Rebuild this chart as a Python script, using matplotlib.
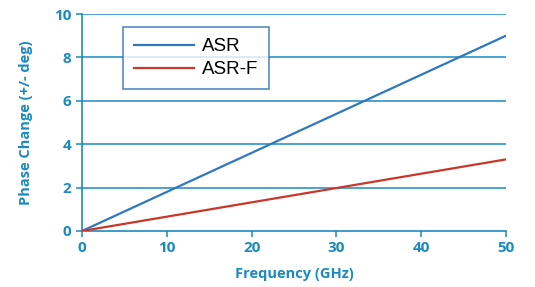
import matplotlib
matplotlib.use("Agg")
import matplotlib.pyplot as plt

freq = [0, 50]
asr = [0, 9.0]
asr_f = [0, 3.3]
xticks = [0, 10, 20, 30, 40, 50]
yticks = [0, 2, 4, 6, 8, 10]

axc = "#1a8ac2"
fig = plt.figure(figsize=(5.35, 2.87), dpi=100)
ax = fig.add_axes([82/535, 1-231/287, 424/535, 217/287])
ax.set_xlim(0, 50)
ax.set_ylim(0, 10)
for y in yticks[1:]:
    ax.axhline(y, color=axc, lw=1.1, zorder=1)
ax.plot(freq, asr, color="#2f78c0", lw=1.6, label="ASR", zorder=3)
ax.plot(freq, asr_f, color="#c8382a", lw=1.6, label="ASR-F", zorder=3)
for s in ["top", "right"]:
    ax.spines[s].set_visible(False)
for s in ["left", "bottom"]:
    ax.spines[s].set_color(axc)
    ax.spines[s].set_linewidth(1.2)
ax.set_xticks(xticks)
ax.set_yticks(yticks)
ax.tick_params(colors=axc, length=4, width=1.1, labelsize=11)
for lab in ax.get_xticklabels() + ax.get_yticklabels():
    lab.set_fontweight("bold")
    lab.set_family("Open Sans")
ax.set_xlabel("Frequency (GHz)", color=axc, fontsize=10.5, fontweight="bold", family="Open Sans", labelpad=8)
ax.set_ylabel("Phase Change (+/- deg)", color=axc, fontsize=10.5, fontweight="bold", family="Open Sans", labelpad=15)
leg = ax.legend(loc="upper left", bbox_to_anchor=(41/424, 1-13/217), frameon=True, fancybox=False,
                prop={"family": "Liberation Sans", "size": 13.5}, handlelength=3.2, borderpad=0.6,
                labelspacing=0.3, handletextpad=0.4, borderaxespad=0)
leg.get_frame().set_edgecolor("#2a6fb5")
leg.get_frame().set_linewidth(1.2)
leg.set_zorder(5)
fig.savefig("out.png", dpi=100)
